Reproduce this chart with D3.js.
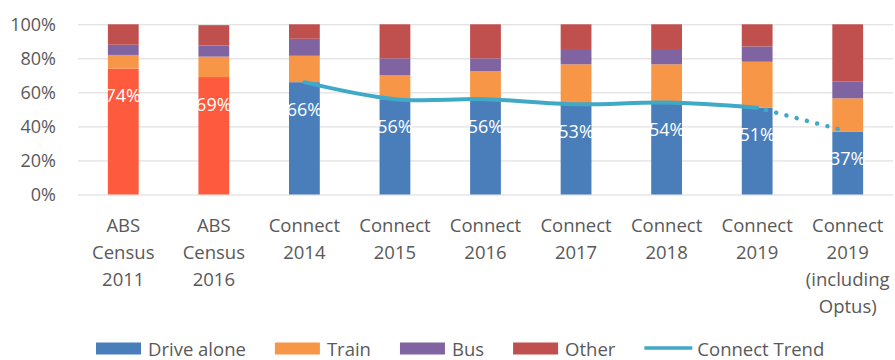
<!DOCTYPE html>
<html>
<head>
<meta charset="utf-8">
<script src="https://cdn.jsdelivr.net/npm/d3@7"></script>
<style>
  html, body { margin: 0; padding: 0; background: #fff; }
  svg { display: block; }
  text { font-family: "Open Sans", sans-serif; }
</style>
</head>
<body>
<svg id="chart" width="895" height="360"></svg>
<script>
// Survey categories (multi-line tick labels)
const categories = [
  ["ABS", "Census", "2011"],
  ["ABS", "Census", "2016"],
  ["Connect", "2014"],
  ["Connect", "2015"],
  ["Connect", "2016"],
  ["Connect", "2017"],
  ["Connect", "2018"],
  ["Connect", "2019"],
  ["Connect", "2019", "(including", "Optus)"]
];
// Which categories come from the ABS census
const isCensus = [true, true, false, false, false, false, false, false, false];

// Mode share (%) per category
const driveAlone = [74, 69, 66, 56, 56, 53, 54, 51, 37];
const train      = [8, 12, 15.5, 14, 16.5, 23.5, 22.5, 27, 19.5];
const bus        = [6, 6.5, 10, 10, 7.5, 9, 9, 9, 10];
const other      = [12, 12, 8.5, 20, 20, 14.5, 14.5, 13, 33.5];

// Connect trend: solid across the Connect surveys, dotted to the Optus-inclusive figure
const trendSolidIdx = [2, 3, 4, 5, 6, 7];
const trendDottedIdx = [7, 8];

const yTicks = [0, 20, 40, 60, 80, 100];
const seriesNames = ["Drive alone", "Train", "Bus", "Other"];
const seriesColors = ["#4a7ebb", "#f79646", "#8064a2", "#c0504d"];
const censusColor = "#fd5a3e";
const trendColor = "#41a9c8";
const textColor = "#595959";

const svg = d3.select("#chart");
const margin = { left: 78, right: 2, top: 24, bottom: 165 };
const W = 895, H = 360;

const x = d3.scaleBand()
  .domain(d3.range(categories.length))
  .range([margin.left, W - margin.right])
  .paddingInner(0.66)
  .paddingOuter(0.33);

const y = d3.scaleLinear().domain([0, 100]).range([194.5, 24.3]);

// Gridlines + y tick labels
const yAxis = d3.axisLeft(y)
  .tickValues(yTicks)
  .tickFormat(d => d + "%")
  .tickSize(-(W - margin.right - margin.left))
  .tickPadding(22);
const gy = svg.append("g")
  .attr("transform", `translate(${margin.left},0)`)
  .call(yAxis);
gy.select(".domain").remove();
gy.selectAll(".tick line").attr("stroke", "#d9d9d9").attr("stroke-width", 1);
gy.selectAll(".tick text")
  .attr("fill", textColor)
  .style("font-size", "18px")
  .style("font-family", "'Open Sans', sans-serif");

// Stacked bars
const stackData = categories.map((c, i) => ({
  i, "Drive alone": driveAlone[i], "Train": train[i], "Bus": bus[i], "Other": other[i]
}));
const stacked = d3.stack().keys(seriesNames)(stackData);

const layers = svg.append("g").selectAll("g")
  .data(stacked)
  .join("g");

layers.selectAll("rect")
  .data(d => d.map(p => ({ p, key: d.key, idx: seriesNames.indexOf(d.key) })))
  .join("rect")
  .attr("x", d => x(d.p.data.i))
  .attr("width", x.bandwidth())
  .attr("y", d => y(d.p[1]))
  .attr("height", d => y(d.p[0]) - y(d.p[1]))
  .attr("fill", d => (d.idx === 0 && isCensus[d.p.data.i]) ? censusColor : seriesColors[d.idx]);

// Connect trend line
const line = d3.line()
  .x(i => x(i) + x.bandwidth() / 2)
  .y(i => y(driveAlone[i]))
  .curve(d3.curveCatmullRom);

svg.append("path")
  .datum(trendSolidIdx)
  .attr("d", line)
  .attr("fill", "none")
  .attr("stroke", trendColor)
  .attr("stroke-width", 4)
  .attr("stroke-linecap", "round");

svg.append("path")
  .datum(trendDottedIdx)
  .attr("d", d3.line().x(i => x(i) + x.bandwidth() / 2).y(i => y(driveAlone[i])))
  .attr("fill", "none")
  .attr("stroke", trendColor)
  .attr("stroke-width", 4.5)
  .attr("stroke-linecap", "round")
  .attr("stroke-dasharray", "0.1 10.5")
  .attr("stroke-dashoffset", -9);

// Drive-alone value labels, inside the top of each bar
svg.append("g").selectAll("text")
  .data(driveAlone)
  .join("text")
  .attr("x", (d, i) => x(i) + x.bandwidth() / 2)
  .attr("y", d => y(d) + 26.5)
  .attr("text-anchor", "middle")
  .attr("dominant-baseline", "central")
  .attr("fill", "#ffffff")
  .style("font-size", "18px")
  .text(d => d + "%");

// Category labels
const gx = svg.append("g");
categories.forEach((lines, i) => {
  const t = gx.append("text")
    .attr("x", x(i) + x.bandwidth() / 2)
    .attr("y", 224)
    .attr("text-anchor", "middle")
    .attr("fill", textColor)
    .style("font-size", "18.5px");
  lines.forEach((s, k) => {
    t.append("tspan")
      .attr("x", x(i) + x.bandwidth() / 2)
      .attr("y", 224 + k * 27)
      .attr("dominant-baseline", "central")
      .text(s);
  });
});

// Legend
const legendItems = [
  { name: "Drive alone", color: seriesColors[0], type: "rect" },
  { name: "Train", color: seriesColors[1], type: "rect" },
  { name: "Bus", color: seriesColors[2], type: "rect" },
  { name: "Other", color: seriesColors[3], type: "rect" },
  { name: "Connect Trend", color: trendColor, type: "line" }
];
const legend = svg.append("g");
let lx = 96;
const ly = 348;
legendItems.forEach(item => {
  if (item.type === "rect") {
    legend.append("rect")
      .attr("x", lx).attr("y", ly - 5.5)
      .attr("width", 45).attr("height", 12)
      .attr("fill", item.color);
  } else {
    legend.append("line")
      .attr("x1", lx).attr("x2", lx + 48)
      .attr("y1", ly).attr("y2", ly)
      .attr("stroke", item.color).attr("stroke-width", 3.5);
  }
  const tx = lx + (item.type === "rect" ? 52 : 53);
  const t = legend.append("text")
    .attr("x", tx).attr("y", ly)
    .attr("dominant-baseline", "central")
    .attr("fill", textColor)
    .style("font-size", "18.5px")
    .text(item.name);
  lx = tx + t.node().getComputedTextLength() + 29;
});
</script>
</body>
</html>
